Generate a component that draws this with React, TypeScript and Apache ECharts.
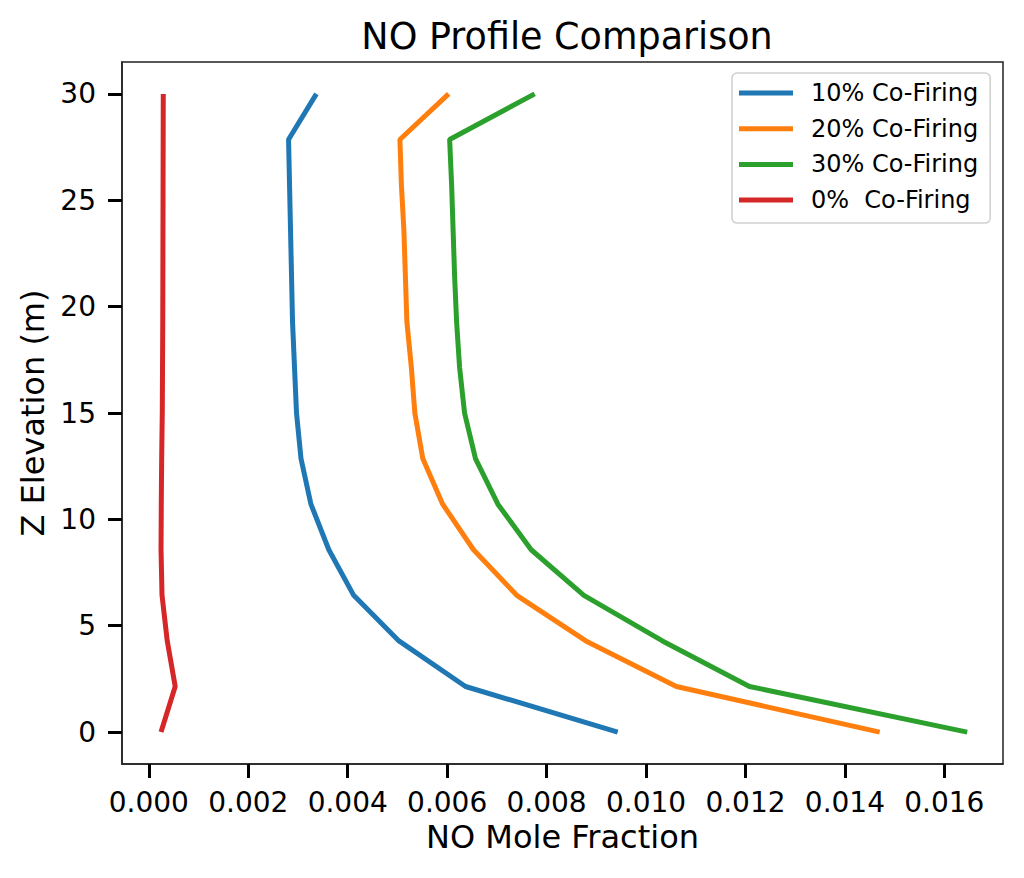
import React, { useEffect, useRef } from "react";
import * as echarts from "echarts";

// elevation levels (m), 15 slices from bottom to top
const elevations = [
    0, 2.143, 4.286, 6.429, 8.571, 10.714, 12.857, 15, 17.143, 19.286, 21.429,
    23.571, 25.714, 27.857, 30,
];

const cofire10 = [
    0.00943, 0.00637, 0.00503, 0.00412, 0.00362, 0.00326, 0.00306, 0.00297,
    0.00293, 0.00289, 0.00287, 0.00285, 0.00283, 0.00281, 0.00337,
];
const cofire20 = [
    0.0147, 0.01061, 0.00879, 0.0074, 0.00653, 0.00591, 0.00551, 0.00535,
    0.00528, 0.00519, 0.00516, 0.00513, 0.00508, 0.00505, 0.00603,
];
const cofire30 = [
    0.01646, 0.01208, 0.01033, 0.00875, 0.00769, 0.00702, 0.00657, 0.00635,
    0.00625, 0.00619, 0.00615, 0.00612, 0.00609, 0.00605, 0.00776,
];
const cofire0 = [
    0.000245, 0.00053, 0.00037, 0.000265, 0.000245, 0.00025, 0.000258, 0.00027,
    0.000275, 0.00028, 0.000282, 0.000284, 0.000286, 0.000288, 0.00029,
];

const seriesNames = ["10% Co-Firing", "20% Co-Firing", "30% Co-Firing", "0%  Co-Firing"];
const seriesColors = ["#1f77b4", "#ff7f0e", "#2ca02c", "#d62728"];

const xTicks = [0, 0.002, 0.004, 0.006, 0.008, 0.01, 0.012, 0.014, 0.016];
const yTicks = [0, 5, 10, 15, 20, 25, 30];

const FONT = "DejaVu Sans";

const App: React.FC = () => {
    const chartRef = useRef<HTMLDivElement>(null);

    useEffect(() => {
        if (!chartRef.current) return;
        const chart = echarts.init(chartRef.current, null, { renderer: "svg" });

        const profiles = [cofire10, cofire20, cofire30, cofire0];

        const options = {
            animation: false,
            backgroundColor: "#ffffff",
            title: {
                text: "NO Profile Comparison",
                left: 562,
                top: 13,
                textAlign: "center",
                textStyle: {
                    fontFamily: FONT,
                    fontSize: 36.5,
                    fontWeight: "normal",
                    color: "#000",
                },
            },
            legend: {
                orient: "vertical",
                left: 732,
                top: 73,
                data: seriesNames,
                icon: "rect",
                itemWidth: 54,
                itemHeight: 5,
                itemGap: 11.7,
                padding: [8, 12, 11, 7],
                backgroundColor: "rgba(255,255,255,0.8)",
                borderColor: "#d0d0d0",
                borderWidth: 1.5,
                borderRadius: 5,
                textStyle: {
                    fontFamily: FONT,
                    fontSize: 24,
                    lineHeight: 24,
                    color: "#000",
                    padding: [0, 0, 0, 13],
                },
            },
            grid: {
                left: 122,
                right: 21,
                top: 62,
                bottom: 114,
                show: true,
                borderColor: "#222",
                borderWidth: 1.5,
                backgroundColor: "transparent",
            },
            xAxis: {
                type: "value",
                min: -0.00054,
                max: 0.01718,
                name: "NO Mole Fraction",
                nameLocation: "middle",
                nameGap: 57,
                nameTextStyle: { fontFamily: FONT, fontSize: 32, color: "#000" },
                axisLine: { show: true, onZero: false, lineStyle: { color: "#222", width: 1.5 } },
                axisTick: {
                    show: true,
                    length: 14,
                    customValues: xTicks,
                    lineStyle: { color: "#000", width: 3 },
                },
                axisLabel: {
                    customValues: xTicks,
                    margin: 24,
                    fontFamily: FONT,
                    fontSize: 28,
                    color: "#000",
                    formatter: (v: number) => v.toFixed(3),
                },
                splitLine: { show: false },
            },
            yAxis: {
                type: "value",
                min: -1.5,
                max: 31.5,
                name: "Z Elevation (m)",
                nameLocation: "middle",
                nameGap: 68,
                nameTextStyle: { fontFamily: FONT, fontSize: 32, color: "#000" },
                axisLine: { show: true, onZero: false, lineStyle: { color: "#222", width: 1.5 } },
                axisTick: {
                    show: true,
                    length: 14,
                    customValues: yTicks,
                    lineStyle: { color: "#000", width: 3 },
                },
                axisLabel: {
                    customValues: yTicks,
                    margin: 26,
                    fontFamily: FONT,
                    fontSize: 28,
                    color: "#000",
                },
                splitLine: { show: false },
            },
            series: profiles.map((vals, i) => ({
                name: seriesNames[i],
                type: "line",
                symbol: "none",
                data: vals.map((v, j) => [v, elevations[j]]),
                lineStyle: { color: seriesColors[i], width: 5 },
                itemStyle: { color: seriesColors[i] },
            })),
        };

        chart.setOption(options);

        return () => {
            chart.dispose();
        };
    }, []);

    return (
        <div
            ref={chartRef}
            style={{ position: "fixed", left: 0, top: 0, width: "1024px", height: "878px" }}
        />
    );
};

export default App;
